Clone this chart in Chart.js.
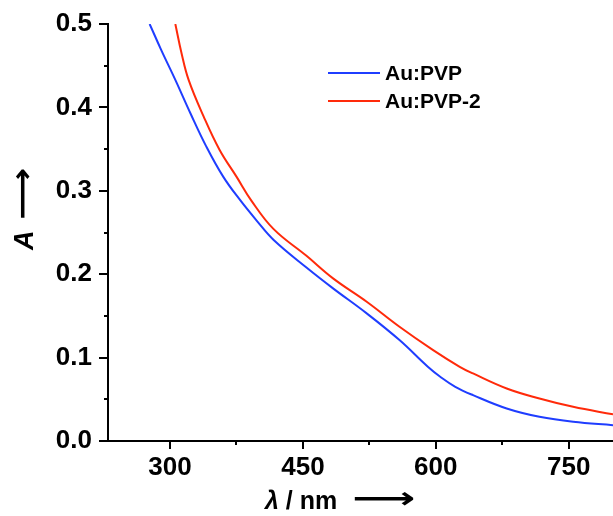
<!DOCTYPE html>
<html>
<head>
<meta charset="utf-8">
<script src="https://cdn.jsdelivr.net/npm/chart.js@4.4.0/dist/chart.umd.min.js"></script>
<style>
  html, body { margin: 0; padding: 0; background: #fff; }
  #wrap { width: 613px; height: 516px; }
</style>
</head>
<body>
<div id="wrap"><canvas id="grafico"></canvas></div>
<script>
// Au:PVP (blue)
const pvpNm = [277, 290, 306, 323, 341, 360, 379, 398, 417, 454, 484, 522, 559, 591, 605, 622, 642, 680, 717, 755, 800];
const pvpAbs = [0.500, 0.469, 0.433, 0.393, 0.353, 0.317, 0.289, 0.264, 0.241, 0.208, 0.183, 0.153, 0.121, 0.089, 0.077, 0.065, 0.055, 0.039, 0.029, 0.023, 0.019];

// Au:PVP-2 (red)
const pvp2Nm = [306, 313, 321, 338, 356, 375, 392, 417, 454, 484, 522, 559, 597, 627, 642, 680, 717, 755, 800];
const pvp2Abs = [0.500, 0.465, 0.433, 0.389, 0.349, 0.317, 0.288, 0.254, 0.222, 0.195, 0.167, 0.137, 0.109, 0.089, 0.081, 0.063, 0.051, 0.041, 0.032];

const seriesLabels = ["Au:PVP", "Au:PVP-2"];

// axis ticks
const xMajor = [300, 450, 600, 750];
const xMinor = [375, 525, 675];
const yMajor = [0.0, 0.1, 0.2, 0.3, 0.4, 0.5];
const yMinor = [0.05, 0.15, 0.25, 0.35, 0.45];

const FONTE = "'Liberation Sans', Arial, 'DejaVu Sans', sans-serif";
const AZUL = "#1f3dff";
const VERMELHO = "#ff2a0a";

function pontos(xs, ys) {
  return xs.map((v, i) => ({ x: v, y: ys[i] }));
}

function montarTicks(major, minor) {
  return major.map(v => ({ value: v, major: true }))
    .concat(minor.map(v => ({ value: v, major: false })))
    .sort((a, b) => a.value - b.value);
}

// arrow glyph stretched to a given length
function seta(ctx, x, y, comprimento) {
  ctx.save();
  ctx.font = "bold 30px 'DejaVu Sans'";
  const w = ctx.measureText("\u27F6").width;
  ctx.translate(x, y);
  ctx.scale(comprimento / w, 1);
  ctx.textAlign = "left";
  ctx.textBaseline = "middle";
  ctx.fillText("\u27F6", 0, 0);
  ctx.restore();
}

// ticks, axis titles and legend
const extras = {
  id: "extras",
  afterDraw(chart) {
    const ctx = chart.ctx;
    const sx = chart.scales.x;
    const sy = chart.scales.y;
    const area = chart.chartArea;
    ctx.save();
    ctx.strokeStyle = "#000";
    ctx.lineWidth = 2;

    sx.ticks.forEach(t => {
      const px = Math.round(sx.getPixelForValue(t.value));
      const len = t.major ? 8 : 4;
      ctx.beginPath();
      ctx.moveTo(px, area.bottom);
      ctx.lineTo(px, area.bottom + len);
      ctx.stroke();
    });
    sy.ticks.forEach(t => {
      const py = Math.round(sy.getPixelForValue(t.value));
      const len = t.major ? 9 : 4;
      ctx.beginPath();
      ctx.moveTo(area.left, py);
      ctx.lineTo(area.left - len, py);
      ctx.stroke();
    });

    // legend
    const cores = [AZUL, VERMELHO];
    ctx.font = "bold 21px " + FONTE;
    ctx.textBaseline = "middle";
    ctx.textAlign = "left";
    chart.data.datasets.forEach((ds, i) => {
      const ly = 73 + i * 28;
      ctx.strokeStyle = cores[i];
      ctx.lineWidth = 2;
      ctx.beginPath();
      ctx.moveTo(328, ly);
      ctx.lineTo(380, ly);
      ctx.stroke();
      ctx.fillStyle = "#000";
      ctx.fillText(ds.label, 385, ly + 1);
    });

    // y title
    ctx.save();
    ctx.translate(24, 240);
    ctx.rotate(-Math.PI / 2);
    ctx.fillStyle = "#000";
    ctx.textBaseline = "middle";
    ctx.textAlign = "left";
    ctx.font = "italic bold 27px " + FONTE;
    ctx.fillText("A", -10, 2);
    seta(ctx, 20, 0, 52);
    ctx.restore();

    // x title
    ctx.fillStyle = "#000";
    ctx.textBaseline = "middle";
    ctx.textAlign = "left";
    let px = 265;
    ctx.font = "italic bold 25px " + FONTE;
    ctx.fillText("\u03BB", px, 502);
    px += ctx.measureText("\u03BB").width;
    ctx.font = "bold 25px " + FONTE;
    ctx.fillText(" / nm", px, 502);
    seta(ctx, 352, 500, 63);

    ctx.restore();
  }
};

new Chart(document.getElementById("grafico").getContext("2d"), {
  type: "line",
  data: {
    datasets: [
      {
        label: seriesLabels[0],
        data: pontos(pvpNm, pvpAbs),
        borderColor: AZUL,
        borderWidth: 2,
        pointRadius: 0,
        tension: 0.4,
        fill: false,
      },
      {
        label: seriesLabels[1],
        data: pontos(pvp2Nm, pvp2Abs),
        borderColor: VERMELHO,
        borderWidth: 2,
        pointRadius: 0,
        tension: 0.4,
        fill: false,
      },
    ],
  },
  options: {
    responsive: true,
    maintainAspectRatio: false,
    animation: false,
    layout: { padding: { top: 24, right: 0, left: 0, bottom: 0 } },
    plugins: {
      legend: { display: false },
      tooltip: { enabled: false },
    },
    scales: {
      x: {
        type: "linear",
        min: 230,
        max: 800,
        afterBuildTicks: s => { s.ticks = montarTicks(xMajor, xMinor); },
        afterFit: s => { s.height = 75; s.paddingLeft = 0; s.paddingRight = 0; },
        grid: { drawOnChartArea: false, drawTicks: false },
        border: { display: true, color: "#000", width: 2 },
        ticks: {
          padding: 11,
          color: "#000",
          font: { family: FONTE, size: 26, weight: "bold" },
          maxRotation: 0,
          autoSkip: false,
          callback: v => (xMajor.includes(v) ? String(v) : ""),
        },
      },
      y: {
        min: 0,
        max: 0.5,
        afterBuildTicks: s => { s.ticks = montarTicks(yMajor, yMinor); },
        afterFit: s => { s.width = 108; s.paddingTop = 0; s.paddingBottom = 0; },
        grid: { drawOnChartArea: false, drawTicks: false },
        border: { display: true, color: "#000", width: 2 },
        ticks: {
          padding: 16,
          color: "#000",
          font: { family: FONTE, size: 26, weight: "bold" },
          autoSkip: false,
          callback: v => (yMajor.some(m => Math.abs(m - v) < 1e-9) ? v.toFixed(1) : ""),
        },
      },
    },
  },
  plugins: [extras],
});
</script>
</body>
</html>
